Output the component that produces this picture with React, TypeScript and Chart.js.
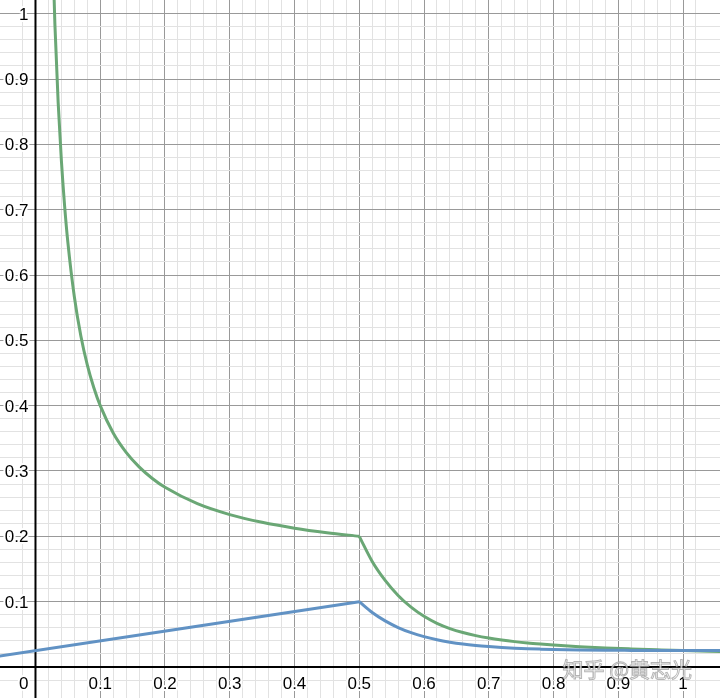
import React, { useEffect, useRef } from "react";
import { Chart, registerables } from "chart.js";

Chart.register(...registerables);

// Axis window
const X_MIN = -0.0548;
const X_MAX = 1.0571;
const Y_MIN = -0.0475;
const Y_MAX = 1.021;

// Tick labels
const xTickValues = [0.1, 0.2, 0.3, 0.4, 0.5, 0.6, 0.7, 0.8, 0.9, 1];
const xTickLabels = ["0.1", "0.2", "0.3", "0.4", "0.5", "0.6", "0.7", "0.8", "0.9", "1"];
const yTickValues = [0.1, 0.2, 0.3, 0.4, 0.5, 0.6, 0.7, 0.8, 0.9, 1];
const yTickLabels = ["0.1", "0.2", "0.3", "0.4", "0.5", "0.6", "0.7", "0.8", "0.9", "1"];
const originLabel = "0";
const watermark = "知乎 @黄志光";

// Blue curve, left (linear) part
const blueLeftX = [-0.06, 0.5];
const blueLeftY = [0.016, 0.1];
// Blue curve, right (decaying) part
const blueRightX = [0.5, 0.52, 0.54, 0.56, 0.58, 0.6, 0.62, 0.64, 0.66, 0.68, 0.7, 0.72, 0.74, 0.76, 0.78, 0.8, 0.84, 0.88, 0.92, 0.96, 1.0, 1.06];
const blueRightY = [0.1, 0.0834, 0.0705, 0.0604, 0.0526, 0.0465, 0.0417, 0.038, 0.0351, 0.0329, 0.0312, 0.0298, 0.0287, 0.0279, 0.0273, 0.0268, 0.0261, 0.0256, 0.0254, 0.0252, 0.0251, 0.0251];

// Green curve, left part
const greenLeftX = [0.025, 0.03, 0.035, 0.04, 0.045, 0.05, 0.06, 0.07, 0.08, 0.09, 0.1, 0.12, 0.14, 0.16, 0.18, 0.2, 0.25, 0.3, 0.35, 0.4, 0.45, 0.5];
const greenLeftY = [1.15, 0.9833, 0.8643, 0.775, 0.7056, 0.65, 0.5667, 0.5071, 0.4625, 0.4278, 0.4, 0.3583, 0.3286, 0.3063, 0.2889, 0.275, 0.25, 0.2333, 0.2214, 0.2125, 0.2056, 0.2];
// Green curve, right part
const greenRightX = [0.5, 0.52, 0.54, 0.56, 0.58, 0.6, 0.62, 0.64, 0.66, 0.68, 0.7, 0.72, 0.74, 0.76, 0.78, 0.8, 0.84, 0.88, 0.92, 0.96, 1.0, 1.06];
const greenRightY = [0.2, 0.1615, 0.1325, 0.1095, 0.0915, 0.0775, 0.0668, 0.0588, 0.0527, 0.048, 0.0443, 0.0413, 0.0388, 0.0367, 0.035, 0.0335, 0.0311, 0.0291, 0.0276, 0.0263, 0.0251, 0.0237];

const GREEN = "#6aa775";
const BLUE = "#6192c4";
const FONT = "17px 'Liberation Sans', Arial, sans-serif";

const pts = (xs: number[], ys: number[]) => xs.map((x, i) => ({ x, y: ys[i] }));

const gridColor = (ctx: any) => {
  const v = ctx.tick ? ctx.tick.value : null;
  if (v == null) return "rgba(0,0,0,0)";
  const k = v / 0.02;
  if (Math.abs(k - Math.round(k)) > 1e-6) return "rgba(0,0,0,0)";
  const m = Math.round(k);
  if (m % 5 === 0) return "#999999";
  return "#e2e2e2";
};

const axesPlugin = {
  id: "desmosAxes",
  beforeDatasetsDraw(chart: any) {
    const { ctx, chartArea, scales } = chart;
    const xs = scales.x;
    const ys = scales.y;
    const x0 = xs.getPixelForValue(0);
    const y0 = ys.getPixelForValue(0);
    ctx.save();
    ctx.strokeStyle = "#000";
    ctx.lineWidth = 2;
    ctx.beginPath();
    ctx.moveTo(chartArea.left, y0);
    ctx.lineTo(chartArea.right, y0);
    ctx.moveTo(x0, chartArea.top);
    ctx.lineTo(x0, chartArea.bottom);
    ctx.stroke();

    ctx.font = FONT;
    ctx.lineJoin = "round";
    ctx.textBaseline = "alphabetic";
    const drawLabel = (t: string, x: number, y: number) => {
      ctx.strokeStyle = "#fff";
      ctx.lineWidth = 4;
      ctx.strokeText(t, x, y);
      ctx.fillStyle = "#000";
      ctx.fillText(t, x, y);
    };
    ctx.textAlign = "center";
    xTickValues.forEach((v, i) => {
      drawLabel(xTickLabels[i], xs.getPixelForValue(v), y0 + 22.5);
    });
    ctx.textAlign = "right";
    yTickValues.forEach((v, i) => {
      drawLabel(yTickLabels[i], x0 - 7, ys.getPixelForValue(v) + 6);
    });
    drawLabel(originLabel, x0 - 7, y0 + 22.5);
    ctx.restore();
  },
  afterDatasetsDraw(chart: any) {
    const { ctx, chartArea } = chart;
    ctx.save();
    ctx.font = "21px 'Noto Sans CJK SC', sans-serif";
    ctx.textAlign = "right";
    ctx.textBaseline = "alphabetic";
    ctx.lineWidth = 1;
    ctx.strokeStyle = "rgba(120,120,120,0.55)";
    ctx.fillStyle = "rgba(255,255,255,0.8)";
    ctx.fillText(watermark, chartArea.right - 28, chartArea.bottom - 21);
    ctx.strokeText(watermark, chartArea.right - 28, chartArea.bottom - 21);
    ctx.restore();
  },
};

const ds = (data: any[], color: string) => ({
  data,
  borderColor: color,
  backgroundColor: color,
  borderWidth: 3,
  pointRadius: 0,
  showLine: true,
  fill: false,
  cubicInterpolationMode: "monotone" as const,
});

export default function App() {
  const ref = useRef<HTMLCanvasElement | null>(null);
  useEffect(() => {
    if (!ref.current) return;
    const chart = new Chart(ref.current, {
      type: "scatter",
      data: {
        datasets: [
          ds(pts(blueLeftX, blueLeftY), BLUE),
          ds(pts(blueRightX, blueRightY), BLUE),
          ds(pts(greenLeftX, greenLeftY), GREEN),
          ds(pts(greenRightX, greenRightY), GREEN),
        ],
      },
      options: {
        animation: false,
        responsive: false,
        layout: { padding: 0 },
        plugins: { legend: { display: false }, tooltip: { enabled: false } },
        scales: {
          x: {
            type: "linear",
            min: X_MIN,
            max: X_MAX,
            ticks: { display: false, stepSize: 0.02, maxTicksLimit: 1000 },
            grid: { color: gridColor, lineWidth: 1, drawTicks: false },
            border: { display: false },
          },
          y: {
            type: "linear",
            min: Y_MIN,
            max: Y_MAX,
            ticks: { display: false, stepSize: 0.02, maxTicksLimit: 1000 },
            grid: { color: gridColor, lineWidth: 1, drawTicks: false },
            border: { display: false },
          },
        },
      },
      plugins: [axesPlugin],
    });
    return () => chart.destroy();
  }, []);
  return (
    <canvas
      ref={ref}
      width={720}
      height={698}
      style={{ position: "absolute", left: 0, top: 0, display: "block", background: "#fff" }}
    />
  );
}
